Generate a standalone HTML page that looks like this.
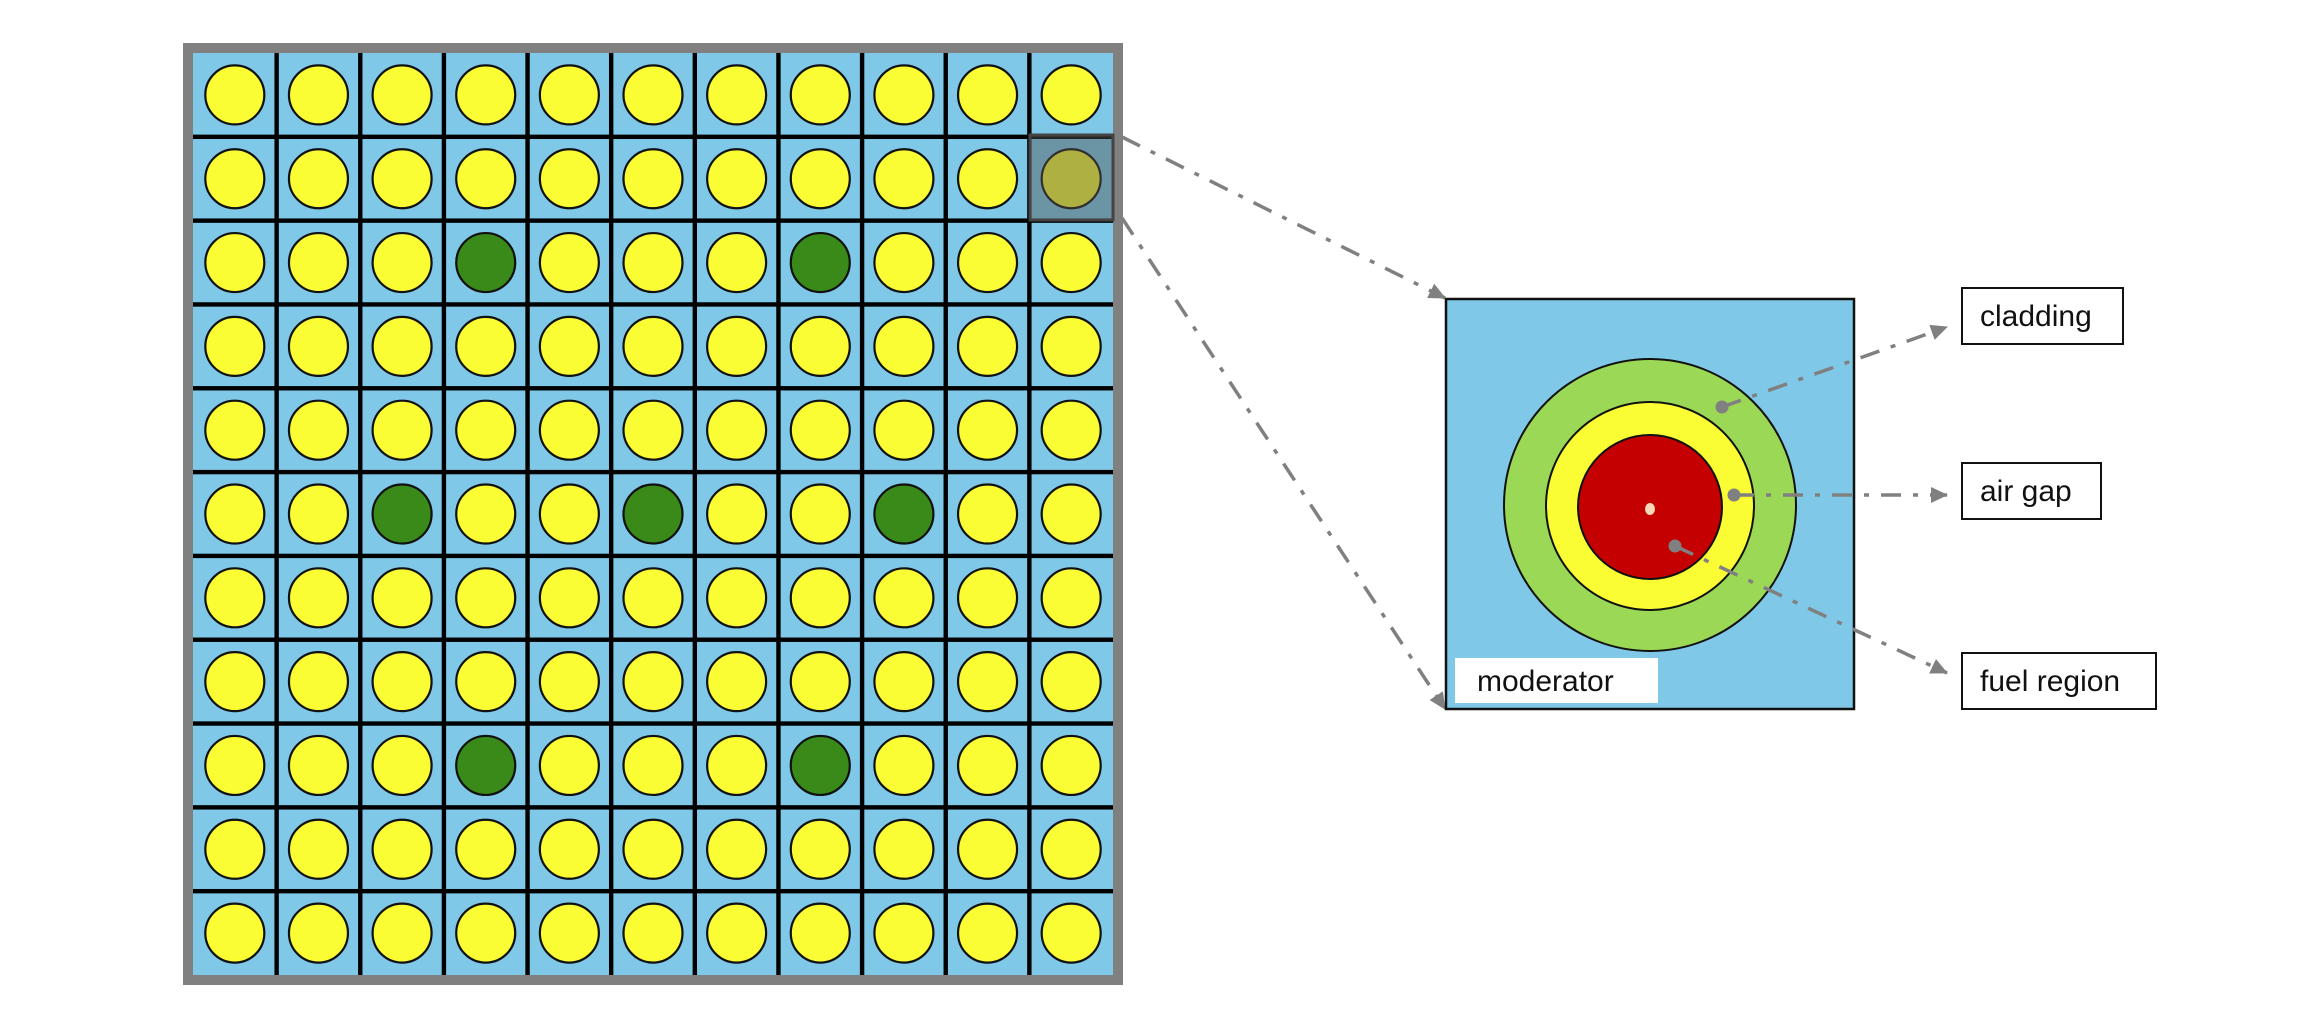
<!DOCTYPE html>
<html><head><meta charset="utf-8"><style>html,body{margin:0;padding:0;background:#fff}svg{display:block}</style></head>
<body>
<svg width="2302" height="1034" viewBox="0 0 2302 1034" xmlns="http://www.w3.org/2000/svg">
<defs>
<marker id="ah2" markerWidth="18" markerHeight="18" refX="16" refY="9" orient="auto" markerUnits="userSpaceOnUse" viewBox="0 0 18 18">
<path d="M0,1 L17,9 L0,17 z" fill="#808080"/></marker>
</defs>
<rect x="183" y="43" width="940" height="942" fill="#808080"/>
<rect x="193" y="53" width="920" height="922" fill="#000"/>
<g id="cells"></g>
<script>
(function(){
var g=document.getElementById('cells');var ns='http://www.w3.org/2000/svg';
var green={'2,3':1,'2,7':1,'5,2':1,'5,5':1,'5,8':1,'8,3':1,'8,7':1};
var p=920/11, py=922/11, h=2.2;
for(var r=0;r<11;r++)for(var c=0;c<11;c++){
 var x=193+c*p,y=53+r*py;
 var rc=document.createElementNS(ns,'rect');
 rc.setAttribute('x',x+(c?h:0));rc.setAttribute('y',y+(r?h:0));
 rc.setAttribute('width',p-(c?h:0)-(c<10?h:0));rc.setAttribute('height',py-(r?h:0)-(r<10?h:0));
 rc.setAttribute('fill','#7fc8e8');g.appendChild(rc);
 var ci=document.createElementNS(ns,'circle');
 ci.setAttribute('cx',x+p/2);ci.setAttribute('cy',y+py/2);ci.setAttribute('r',29.5);
 ci.setAttribute('fill',green[r+','+c]?'#3a8a1a':'#fafc34');ci.setAttribute('stroke','#111');ci.setAttribute('stroke-width','2.2');
 g.appendChild(ci);
}
})();
</script>
<rect x="1030" y="135" width="83" height="85" fill="#555" fill-opacity="0.45" stroke="#444" stroke-width="3"/>
<g fill="none" stroke="#808080" stroke-width="3.5" stroke-dasharray="20,12,5,12">
<line x1="1122" y1="137" x2="1445" y2="298" marker-end="url(#ah2)"/>
<line x1="1122" y1="218" x2="1445" y2="709" marker-end="url(#ah2)"/>
</g>
<rect x="1446" y="299" width="408" height="410" fill="#7fc8e8" stroke="#111" stroke-width="2.5"/>
<circle cx="1650" cy="505" r="146" fill="#9bd855" stroke="#111" stroke-width="2"/>
<circle cx="1650" cy="506" r="104" fill="#fafc34" stroke="#111" stroke-width="2"/>
<circle cx="1650" cy="507" r="72" fill="#c40000" stroke="#111" stroke-width="2"/>
<ellipse cx="1650" cy="509" rx="5" ry="6" fill="#f8d8b8"/>
<rect x="1455" y="658" width="203" height="45" fill="#fff"/>
<text x="1477" y="691" font-family="Liberation Sans, sans-serif" font-size="30" fill="#111">moderator</text>
<g fill="none" stroke="#808080" stroke-width="3.5" stroke-dasharray="20,12,5,12">
<line x1="1722" y1="407" x2="1947" y2="327" marker-end="url(#ah2)"/>
<line x1="1734" y1="495" x2="1947" y2="495" marker-end="url(#ah2)"/>
<line x1="1675" y1="546" x2="1947" y2="673" marker-end="url(#ah2)"/>
</g>
<g fill="#808080"><circle cx="1722" cy="407" r="6.5"/><circle cx="1734" cy="495" r="6.5"/><circle cx="1675" cy="546" r="6.5"/></g>
<g fill="#fff" stroke="#111" stroke-width="2">
<rect x="1962" y="288" width="161" height="56"/>
<rect x="1962" y="463" width="139" height="56"/>
<rect x="1962" y="653" width="194" height="56"/>
</g>
<g font-family="Liberation Sans, sans-serif" font-size="30" fill="#111">
<text x="1980" y="326">cladding</text>
<text x="1980" y="501">air gap</text>
<text x="1980" y="691">fuel region</text>
</g>
</svg>
</body></html>
